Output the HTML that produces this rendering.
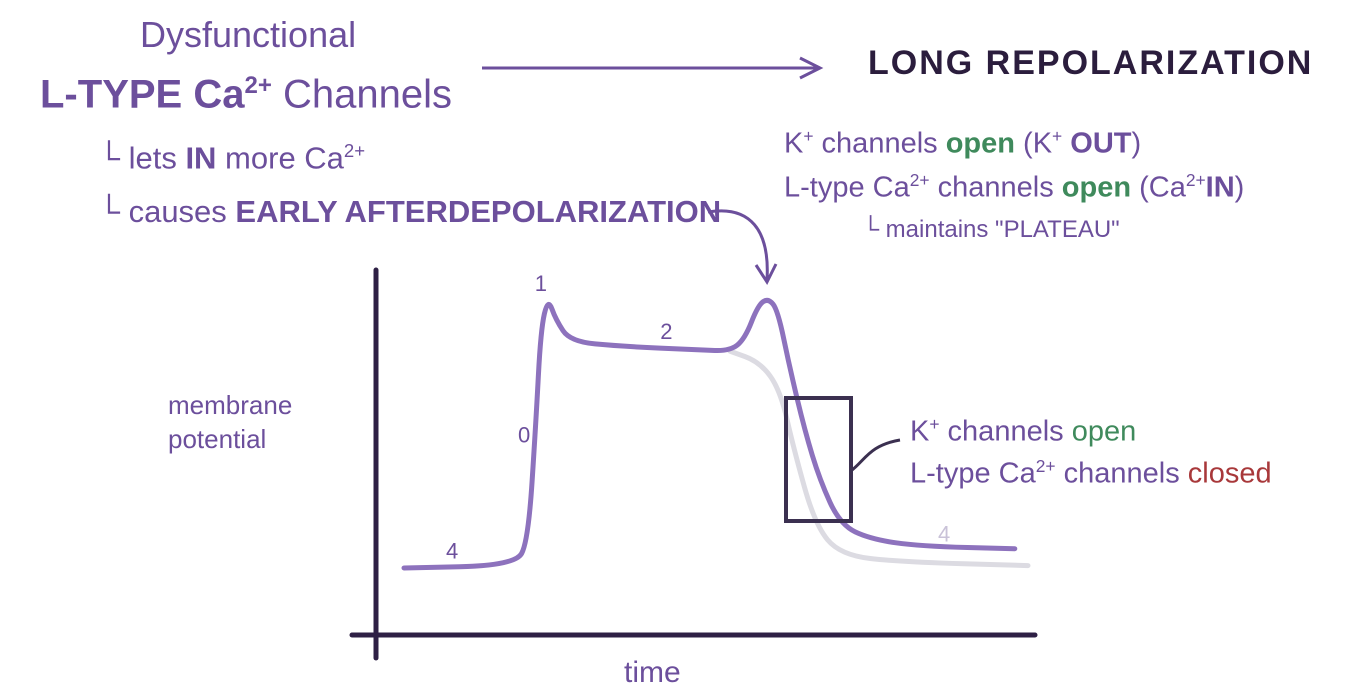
<!DOCTYPE html>
<html><head><meta charset="utf-8"><style>
html,body{margin:0;padding:0;background:#fff;}
body{width:1366px;height:696px;overflow:hidden;position:relative;font-family:"Liberation Sans",sans-serif;}
.t{position:absolute;white-space:nowrap;color:#6c4f9c;}
.g{color:#3f8a5c}.r{color:#a8383a}.d{color:#2b1d3d}
sup{font-size:60%}
</style></head><body>
<div class="t" style="left:140px;top:14px;font-size:36px;">Dysfunctional</div>
<div class="t" style="left:40px;top:72px;font-size:40px;font-weight:bold;">L-TYPE Ca<sup>2+</sup> <span style="font-weight:normal">Channels</span></div>
<div class="t" style="left:98px;top:140px;font-size:31px;">└ lets <b>IN</b> more Ca<sup>2+</sup></div>
<div class="t" style="left:98px;top:194px;font-size:31px;">└ causes <b>EARLY AFTERDEPOLARIZATION</b></div>
<div class="t d" style="left:868px;top:44px;font-size:34px;font-weight:bold;letter-spacing:2px;">LONG REPOLARIZATION</div>
<div class="t" style="left:784px;top:126px;font-size:29px;">K<sup>+</sup> channels <b class="g">open</b> (K<sup>+</sup> <b>OUT</b>)</div>
<div class="t" style="left:784px;top:170px;font-size:29px;">L-type Ca<sup>2+</sup> channels <b class="g">open</b> (Ca<sup>2+</sup><b>IN</b>)</div>
<div class="t" style="left:862px;top:216px;font-size:24px;">└ maintains "PLATEAU"</div>
<div class="t" style="left:168px;top:388px;font-size:26px;line-height:34px;">membrane<br>potential</div>
<div class="t" style="left:624px;top:656px;font-size:30px;">time</div>
<div class="t" style="left:910px;top:414px;font-size:29px;">K<sup>+</sup> channels <span class="g">open</span></div>
<div class="t" style="left:910px;top:456px;font-size:29px;">L-type Ca<sup>2+</sup> channels <span class="r">closed</span></div>
<svg width="1366" height="696" style="position:absolute;left:0;top:0">
<g id="g"></g>
</svg>
<script>
const ghostT=[54.3,59.3,62.7,65,68.5,72.7,82.7,104];
const ghostV=[10,5.5,-6,-31,-62,-74.6,-77.5,-79];
const timePts=[0,18.5,20.7,22,22.8,24,25.3,27.7,36,49.3,54.3,56.8,59,60.7,62.3,64.3,66.8,69.3,72.7,77.7,86,101.8];
const volts=[-80,-79,-69,-19,19,32,23,14,12,10.5,10,15,29,32,27,3,-23,-43.5,-62,-68,-71,-72];
const labelText=["4","0","1","2","4"];
const labelT=[7,19,21.8,42.7,89];
const labelV=[-76,-28,35,15,-69];
const x=t=>404+t*6, y=v=>568-(v+80)*2.41;
const g=document.getElementById('g');
const NS='http://www.w3.org/2000/svg';
function mk(tag,a){const e=document.createElementNS(NS,tag);for(const k in a)e.setAttribute(k,a[k]);g.appendChild(e);return e;}
function path(T,V){let d='M'+x(T[0]).toFixed(1)+','+y(V[0]).toFixed(1);for(let i=1;i<T.length;i++){const mx=(x(T[i-1])+x(T[i]))/2,my=(y(V[i-1])+y(V[i]))/2;d+='Q'+x(T[i-1]).toFixed(1)+','+y(V[i-1]).toFixed(1)+' '+mx.toFixed(1)+','+my.toFixed(1);}d+='L'+x(T[T.length-1]).toFixed(1)+','+y(V[V.length-1]).toFixed(1);return d;}
let e=mk('path',{d:path(ghostT,ghostV),fill:'none',stroke:'#dcdbe2','stroke-width':5,'stroke-linejoin':'round','stroke-linecap':'round'});


e=mk('path',{d:path(timePts,volts),fill:'none',stroke:'#8d72bd','stroke-width':5,'stroke-linejoin':'round','stroke-linecap':'round'});


e=mk('line',{x1:376,y1:270,x2:376,y2:658,stroke:'#2e2045','stroke-width':5,'stroke-linecap':'round'});


e=mk('line',{x1:352,y1:635,x2:1035,y2:635,stroke:'#2e2045','stroke-width':5,'stroke-linecap':'round'});


e=mk('rect',{x:786,y:398,width:65,height:123,fill:'none',stroke:'#3b3050','stroke-width':4});


e=mk('path',{d:'M852,470 C865,460 870,445 900,440',fill:'none',stroke:'#3b3050','stroke-width':3});


e=mk('path',{d:'M482,68 L818,68 M800,58 L820,68 L800,78',fill:'none',stroke:'#6c4f9c','stroke-width':3});


e=mk('path',{d:'M708,212 C750,205 770,230 767,280 M756,265 L767,282 L776,264',fill:'none',stroke:'#6c4f9c','stroke-width':3});


labelText.forEach((s,i)=>{
 const tx=mk('text',{x:x(labelT[i]),y:y(labelV[i]),fill:i==4?'#c9c2d8':'#6c4f9c','font-size':22,'font-family':'Liberation Sans'});
 tx.textContent=s;
 
 
});
</script>
</body></html>
